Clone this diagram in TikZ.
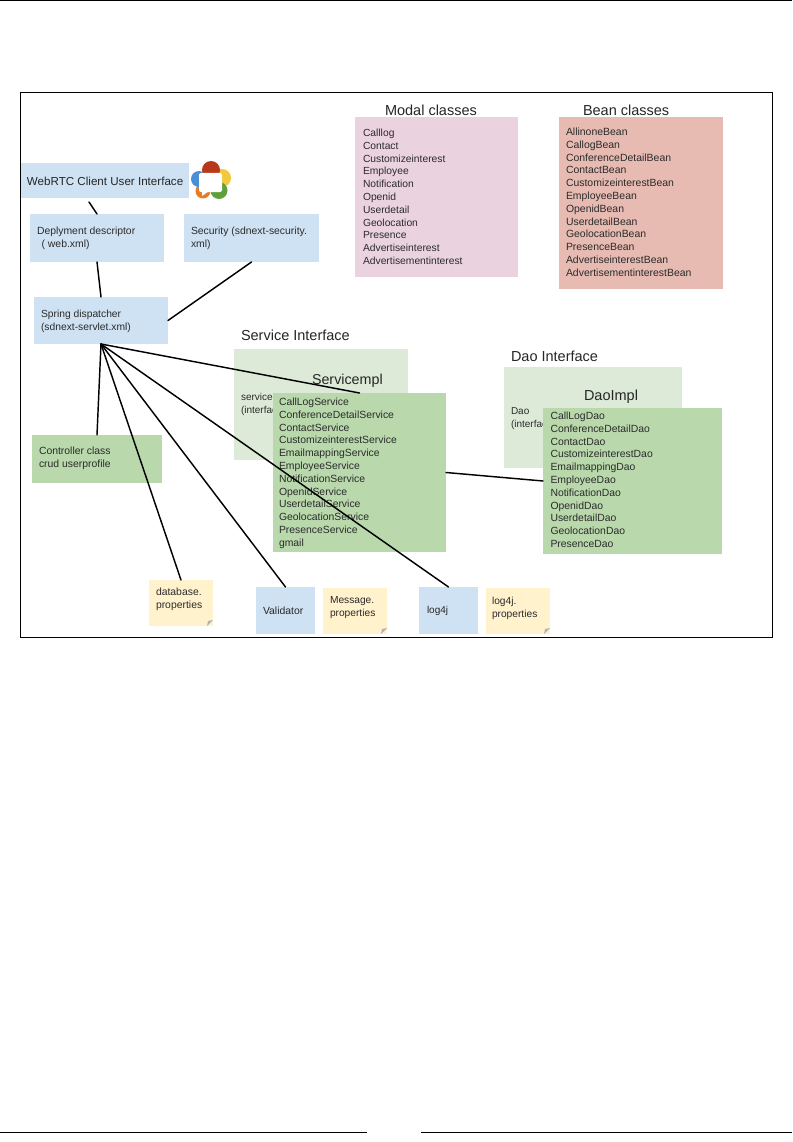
\documentclass[tikz,border=0pt]{standalone}
\usepackage{fontspec}
\setmainfont{Liberation Sans}
\definecolor{cBlue}{HTML}{CFE2F3}
\definecolor{cPale}{HTML}{DCEAD7}
\definecolor{cGreen}{HTML}{B9D8AC}
\definecolor{cPink}{HTML}{EAD3DE}
\definecolor{cSalmon}{HTML}{E7BBB2}
\definecolor{cYellow}{HTML}{FFF2CC}
\definecolor{cInk}{HTML}{2B2B2B}
\definecolor{logoRed}{HTML}{B5391A}
\definecolor{logoYellow}{HTML}{F2C83C}
\definecolor{logoGreen}{HTML}{5FA03C}
\definecolor{logoOrange}{HTML}{E47D24}
\definecolor{logoBlue}{HTML}{4A8FD6}
\newcommand{\fs}[1]{\fontsize{#1}{12.8}\selectfont}
\tikzset{
  x=1pt,y=-1pt,
  boxnode/.style={draw=none,inner sep=0pt,outer sep=0pt,anchor=north west},
  txt/.style={anchor=north west,inner sep=0pt,outer sep=0pt,align=left,text=cInk,font=\fs{#1}},
  txt/.default=10.4,
  head/.style={anchor=west,inner sep=0pt,outer sep=0pt,text=black!85,font=\fontsize{#1}{16}\selectfont},
  wire/.style={line width=1.45pt,black,line cap=round},
  rule/.style={line width=1pt,black},
  fold/.style={fill=black!30,draw=none},
}
\newcommand{\bx}[6]{\node[boxnode,fill=#2,minimum width=#5-#3,minimum height=#6-#4] (#1) at (#3,#4) {};}
\begin{document}
\begin{tikzpicture}
\useasboundingbox (0,0) rectangle (792,1142);
\fill[white] (0,0) rectangle (792,1142);
% page rules
\coordinate (hA) at (0,0.8); \coordinate (hB) at (792,0.8);
\draw[rule] (hA) -- (hB);
\coordinate (fA) at (0,1132.5); \coordinate (fB) at (367,1132.5);
\coordinate (fC) at (421,1132.5); \coordinate (fD) at (792,1132.5);
\draw[rule] (fA) -- (fB);
\draw[rule] (fC) -- (fD);
% frame
\node[boxnode,draw=black,line width=0.9pt,minimum width=752,minimum height=545] (frame) at (20,92) {};
% boxes
\bx{webrtc}{cBlue}{21}{163}{189}{198}
\bx{deploy}{cBlue}{30}{214}{164}{262}
\bx{security}{cBlue}{184}{214}{319}{262}
\bx{spring}{cBlue}{34}{297}{168}{344}
\bx{modal}{cPink}{355}{117}{518}{277}
\bx{bean}{cSalmon}{559}{117}{723}{289}
\bx{serviceif}{cPale}{234}{349}{408}{460}
\bx{daoif}{cPale}{504}{367}{682}{468}
\bx{controller}{cGreen}{32}{435}{162}{483}
\bx{database}{cYellow}{149}{580}{213}{626}
\bx{validator}{cBlue}{256}{587}{315}{634}
\bx{message}{cYellow}{323}{588}{387}{634}
\bx{logj}{cBlue}{419}{587}{478}{634}
\bx{logprops}{cYellow}{486}{588}{550}{634}
% sticky-note folds
\fill[fold] (213,620) -- (207,626) -- (208,621) -- cycle;
\fill[fold] (387,628) -- (381,634) -- (382,629) -- cycle;
\fill[fold] (550,628) -- (544,634) -- (545,629) -- cycle;
% text under the front boxes
\node[txt=10] (serviceiftxt) at (241,391.6) {\strut service\\(interface)};
\node[txt=10] (daoiftxt) at (511,405.6) {\strut Dao\\(interface)};
\node[head=14.3] (servicetitle) at (312,381) {Servicempl};
\node[head=14.5] (daotitle) at (584,397) {DaoImpl};
% front boxes
\bx{serviceimpl}{cGreen}{273}{393}{446}{552}
\bx{daoimpl}{cGreen}{543}{408}{722}{554}
% logo
\begin{scope}[shift={(211,180)}]
  \fill[logoYellow] (11,-2) circle (9);
  \fill[logoGreen] (8,10.5) circle (8.5);
  \fill[logoOrange] (-8,11) circle (7.5);
  \fill[logoBlue] (-12,-1) circle (8);
  \fill[logoRed] (0,-10) circle (9);
  \fill[white,rounded corners=2pt] (-12,-7) rectangle (11,12);
  \fill[white] (-9,10) -- (-9,16) -- (-2,11) -- cycle;
\end{scope}
% labels
\node[head=11.6] (webrtctxt) at (27,181) {WebRTC Client User Interface};
\node[txt] (deploytxt) at (37,225.6) {\strut Deplyment descriptor\\\ \,( web.xml)};
\node[txt] (securitytxt) at (191,225.6) {\strut Security (sdnext-security.\\xml)};
\node[txt=10.3] (springtxt) at (41,308.6) {\strut Spring dispatcher\\(sdnext-servlet.xml)};
\node[head=14.5] (modaltitle) at (385,110) {Modal classes};
\node[head=14.5] (beantitle) at (583,110) {Bean classes};
\node[head=14.5] (servicehead) at (241,335) {Service Interface};
\node[head=14.5] (daohead) at (511,356) {Dao Interface};
\node[txt=10.3] (modaltxt) at (363,127.6) {\strut Calllog\\Contact\\Customizeinterest\\Employee\\Notification\\Openid\\Userdetail\\Geolocation\\Presence\\Advertiseinterest\\Advertisementinterest};
\node[txt=10.45] (beantxt) at (566,126.6) {\strut AllinoneBean\\CallogBean\\ConferenceDetailBean\\ContactBean\\CustomizeinterestBean\\EmployeeBean\\OpenidBean\\UserdetailBean\\GeolocationBean\\PresenceBean\\AdvertiseinterestBean\\AdvertisementinterestBean};
\node[txt] (servicetxt) at (279,396.6) {\strut CallLogService\\ConferenceDetailService\\ContactService\\CustomizeinterestService\\EmailmappingService\\EmployeeService\\NotificationService\\OpenidService\\UserdetailService\\GeolocationService\\PresenceService\\gmail};
\node[txt] (daotxt) at (550.5,410.6) {\strut CallLogDao\\ConferenceDetailDao\\ContactDao\\CustomizeinterestDao\\EmailmappingDao\\EmployeeDao\\NotificationDao\\OpenidDao\\UserdetailDao\\GeolocationDao\\PresenceDao};
\node[txt] (controllertxt) at (39,445.6) {\strut Controller class\\crud userprofile};
\node[txt] (databasetxt) at (156,586.6) {\strut database.\\properties};
\node[head=10.4] (validatortxt) at (263,611) {Validator};
\node[txt=10.2] (messagetxt) at (330,594.6) {\strut Message.\\properties};
\node[head=10] (logjtxt) at (427,611) {log4j};
\node[txt=10.2] (logpropstxt) at (492,595.6) {\strut log4j.\\properties};
% connectors
\coordinate (webrtcfoot) at (89,202);
\draw[wire] (webrtcfoot) -- (deploy.north);
\draw[wire] (deploy.south) -- (spring.north);
\draw[wire] (security.south) -- (spring.east);
\draw[wire] (spring.south) -- (serviceimpl.north);
\draw[wire] (spring.south) -- (controller.north);
\draw[wire] (spring.south) -- (database.north);
\draw[wire] (spring.south) -- (validator.north);
\draw[wire] (spring.south) -- (logj.north);
\draw[wire] (serviceimpl.east) -- (daoimpl.west);
\end{tikzpicture}
\end{document}
